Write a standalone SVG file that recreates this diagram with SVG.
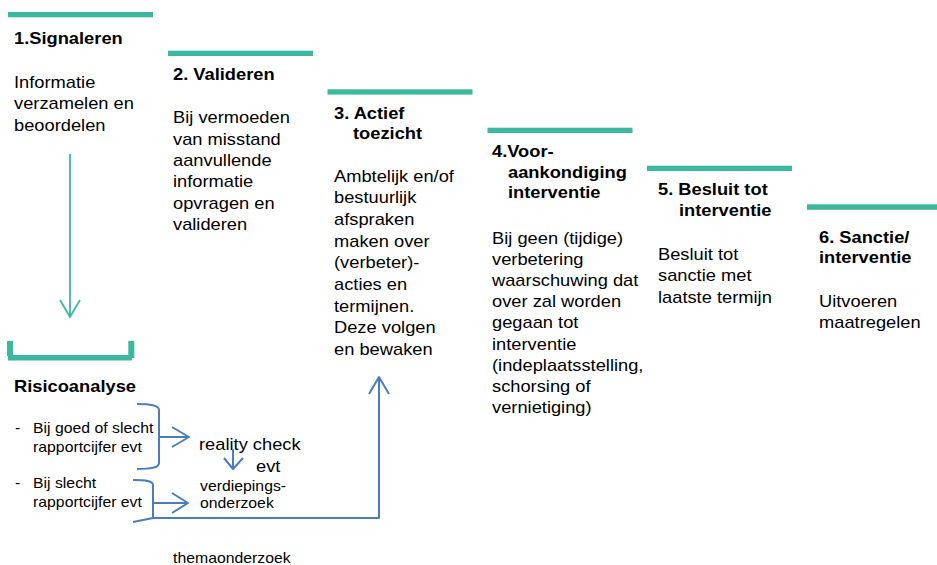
<svg xmlns="http://www.w3.org/2000/svg" width="937" height="565" viewBox="0 0 937 565">
<style>
  text { font-family: "Liberation Sans", Arial, sans-serif; fill: #000; }
  .h { font-size: 16.2px; font-weight: bold; }
  .t { font-size: 16.2px; }
  .s { font-size: 14px; }
  .bar { fill: #3cb89f; }
  .blue { fill: none; stroke: #4a7ebb; stroke-width: 2; stroke-linejoin: round; }
  .green { fill: none; stroke: #3cb89f; stroke-width: 1.8; }
</style>
<rect width="937" height="565" fill="#fff"/>

<g id="step1">
  <rect class="bar" x="8" y="12" width="145" height="5.3"/>
  <text class="h" transform="translate(14 43.5) scale(1.13 1)">1.Signaleren</text>
  <text class="t" transform="translate(14 88) scale(1.13 1)"><tspan x="0" y="0">Informatie</tspan><tspan x="0" dy="21.5">verzamelen en</tspan><tspan x="0" dy="21.5">beoordelen</tspan></text>
</g>

<g id="step2">
  <rect class="bar" x="168" y="50.7" width="145" height="5.3"/>
  <text class="h" transform="translate(173 80) scale(1.13 1)">2. Valideren</text>
  <text class="t" transform="translate(173 123.3) scale(1.13 1)"><tspan x="0" y="0">Bij vermoeden</tspan><tspan x="0" dy="21.4">van misstand</tspan><tspan x="0" dy="21.4">aanvullende</tspan><tspan x="0" dy="21.4">informatie</tspan><tspan x="0" dy="21.4">opvragen en</tspan><tspan x="0" dy="21.4">valideren</tspan></text>
</g>

<g id="step3">
  <rect class="bar" x="327.5" y="89.3" width="145" height="5.3"/>
  <text class="h" transform="translate(334 119.3) scale(1.13 1)">3. Actief</text>
  <text class="h" transform="translate(353 139.3) scale(1.13 1)">toezicht</text>
  <text class="t" transform="translate(334 181.7) scale(1.13 1)"><tspan x="0" y="0">Ambtelijk en/of</tspan><tspan x="0" dy="21.65">bestuurlijk</tspan><tspan x="0" dy="21.65">afspraken</tspan><tspan x="0" dy="21.65">maken over</tspan><tspan x="0" dy="21.65">(verbeter)-</tspan><tspan x="0" dy="21.65">acties en</tspan><tspan x="0" dy="21.65">termijnen.</tspan><tspan x="0" dy="21.65">Deze volgen</tspan><tspan x="0" dy="21.65">en bewaken</tspan></text>
</g>

<g id="step4">
  <rect class="bar" x="487.5" y="127.7" width="145" height="5.3"/>
  <text class="h" transform="translate(492 156.7) scale(1.13 1)">4.Voor-</text>
  <text class="h" transform="translate(508 177.5) scale(1.13 1)"><tspan x="0" y="0">aankondiging</tspan><tspan x="0" dy="20.8">interventie</tspan></text>
  <text class="t" transform="translate(492 243.5) scale(1.13 1)"><tspan x="0" y="0">Bij geen (tijdige)</tspan><tspan x="0" dy="21.25">verbetering</tspan><tspan x="0" dy="21.25">waarschuwing dat</tspan><tspan x="0" dy="21.25">over zal worden</tspan><tspan x="0" dy="21.25">gegaan tot</tspan><tspan x="0" dy="21.25">interventie</tspan><tspan x="0" dy="21.25">(indeplaatsstelling,</tspan><tspan x="0" dy="21.25">schorsing of</tspan><tspan x="0" dy="21.25">vernietiging)</tspan></text>
</g>

<g id="step5">
  <rect class="bar" x="647" y="165.7" width="145" height="5.3"/>
  <text class="h" transform="translate(658 195) scale(1.13 1)">5. Besluit tot</text>
  <text class="h" transform="translate(679 216) scale(1.13 1)">interventie</text>
  <text class="t" transform="translate(658 260) scale(1.13 1)"><tspan x="0" y="0">Besluit tot</tspan><tspan x="0" dy="21.4">sanctie met</tspan><tspan x="0" dy="21.4">laatste termijn</tspan></text>
</g>

<g id="step6">
  <rect class="bar" x="807" y="204.3" width="145" height="5.5"/>
  <text class="h" transform="translate(819 243) scale(1.13 1)"><tspan x="0" y="0">6. Sanctie/</tspan><tspan x="0" dy="20.5">interventie</tspan></text>
  <text class="t" transform="translate(819 306.7) scale(1.13 1)"><tspan x="0" y="0">Uitvoeren</tspan><tspan x="0" dy="21.6">maatregelen</tspan></text>
</g>

<g id="risicoanalyse">
  <rect class="bar" x="7" y="341" width="6" height="15"/>
  <rect class="bar" x="128.3" y="341" width="6" height="17"/>
  <rect class="bar" x="8" y="355" width="124" height="5.5"/>
  <text class="h" transform="translate(14 392) scale(1.13 1)">Risicoanalyse</text>
  <text class="s" transform="translate(15 433) scale(1.13 1)">-</text>
  <text class="s" transform="translate(33 433) scale(1.13 1)"><tspan x="0" y="0">Bij goed of slecht</tspan><tspan x="0" dy="19">rapportcijfer evt</tspan></text>
  <text class="s" transform="translate(15 488) scale(1.13 1)">-</text>
  <text class="s" transform="translate(33 488) scale(1.13 1)"><tspan x="0" y="0">Bij slecht</tspan><tspan x="0" dy="19.5">rapportcijfer evt</tspan></text>
</g>

<g id="reality-check">
  <text class="t" transform="translate(199 449.5) scale(1.13 1)">reality check</text>
  <text class="t" transform="translate(256 471.5) scale(1.13 1)">evt</text>
</g>

<g id="verdiepingsonderzoek">
  <text class="s" transform="translate(200 491) scale(1.13 1)"><tspan x="0" y="0">verdiepings-</tspan><tspan x="0" dy="17.3">onderzoek</tspan></text>
</g>

<g id="themaonderzoek">
  <text class="s" transform="translate(173 563) scale(1.13 1)">themaonderzoek</text>
</g>

<g id="connectors">
  <path class="green" d="M70,154 L70,317 M60,300 L70,317 L80,300"/>
  <path class="blue" d="M137,404 C150,404 159,405 159,410 L159,463 C159,468 150,469 137,469"/>
  <path class="blue" d="M159,437 L189,437 M172,427 L189,437 L172,447"/>
  <path class="blue" d="M133,480 C146,480 153,481 153,485 L153,518 L133,522"/>
  <path class="blue" d="M153,503 L188,503 M172,493 L188,503 L172,513"/>
  <path class="blue" d="M153,518 L379,518 L379,377 M369,394 L379,377 L389,394"/>
  <path class="blue" d="M233,449 L233,469 M224,458 L233,469 L243,458"/>
</g>
</svg>
